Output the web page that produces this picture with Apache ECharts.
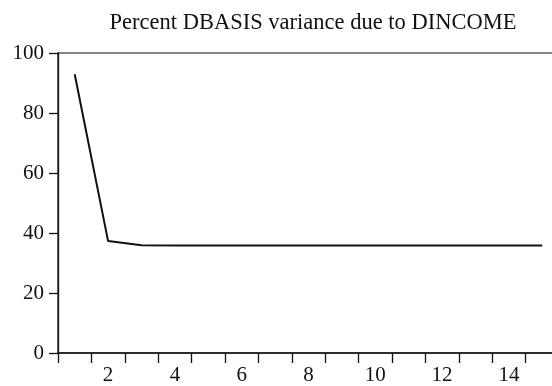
<!DOCTYPE html>
<html>
<head>
<meta charset="utf-8">
<script src="https://cdn.jsdelivr.net/npm/echarts@6/dist/echarts.min.js"></script>
<style>
  html, body { margin: 0; padding: 0; background: #fff; overflow: hidden; }
  /* the plot frame runs past the right edge of the window, so the canvas is wider than the view */
  #chart { width: 580px; height: 386px; }
</style>
</head>
<body>
<div id="chart"></div>
<script>
// Variance decomposition: share of DBASIS forecast-error variance explained by DINCOME
const periods = ['1','2','3','4','5','6','7','8','9','10','11','12','13','14','15'];
const percentVariance = [92.9, 37.3, 35.9, 35.8, 35.8, 35.8, 35.8, 35.8, 35.8, 35.8, 35.8, 35.8, 35.8, 35.8, 35.8];
const yTicks = { min: 0, max: 100, step: 20 };
const titleText = 'Percent DBASIS variance due to DINCOME';

const serif = '"Liberation Serif", "DejaVu Serif", serif';
const ink = '#111';

const chart = echarts.init(document.getElementById('chart'), null, { renderer: 'canvas' });
chart.setOption({
  animation: false,
  backgroundColor: '#fff',
  title: {
    text: titleText,
    left: 308,
    top: 7,
    textAlign: 'center',
    textStyle: { fontFamily: serif, fontSize: 22.5, fontWeight: 'normal', color: ink }
  },
  grid: {
    left: 58, top: 53, width: 501, height: 302,
    show: true, borderColor: ink, borderWidth: 1.2, backgroundColor: 'transparent'
  },
  xAxis: {
    type: 'category',
    data: periods,
    boundaryGap: true,
    axisLine: { lineStyle: { color: ink, width: 1.5 } },
    axisTick: { show: true, inside: false, length: 10, alignWithLabel: false, interval: 0, lineStyle: { color: ink, width: 1.3 } },
    axisLabel: {
      interval: (index) => index % 2 === 1,
      margin: 12,
      fontFamily: serif, fontSize: 21, color: ink
    },
    splitLine: { show: false }
  },
  yAxis: {
    type: 'value',
    min: yTicks.min, max: yTicks.max, interval: yTicks.step,
    axisLine: { show: true, lineStyle: { color: ink, width: 1.3 } },
    axisTick: { show: true, inside: false, length: 9, lineStyle: { color: ink, width: 1.3 } },
    axisLabel: { margin: 14, fontFamily: serif, fontSize: 21, color: ink },
    splitLine: { show: false }
  },
  series: [{
    type: 'line',
    data: percentVariance,
    showSymbol: false,
    symbol: 'none',
    lineStyle: { color: ink, width: 2 }
  }]
});
</script>
</body>
</html>
